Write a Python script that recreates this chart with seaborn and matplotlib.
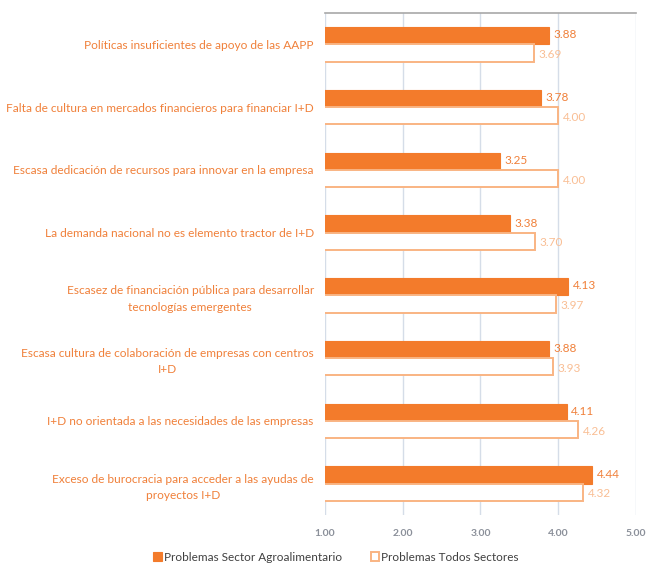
import matplotlib
matplotlib.use("Agg")
import matplotlib.pyplot as plt
import seaborn as sns
import pandas as pd

categories = [
    "Políticas insuficientes de apoyo de las AAPP",
    "Falta de cultura en mercados financieros para financiar I+D",
    "Escasa dedicación de recursos para innovar en la empresa",
    "La demanda nacional no es elemento tractor de I+D",
    "Escasez de financiación pública para desarrollar\ntecnologías emergentes",
    "Escasa cultura de colaboración de empresas con centros\nI+D",
    "I+D no orientada a las necesidades de las empresas",
    "Exceso de burocracia para acceder a las ayudas de\nproyectos I+D",
]
agro = [3.88, 3.78, 3.25, 3.38, 4.13, 3.88, 4.11, 4.44]
todos = [3.69, 4.00, 4.00, 3.70, 3.97, 3.93, 4.26, 4.32]
series = ["Problemas Sector Agroalimentario", "Problemas Todos Sectores"]
x_ticks = [1, 2, 3, 4, 5]

DARK = "#F37B2B"
LIGHT = "#F9B483"
DARK_TXT = "#F0803A"
LIGHT_TXT = "#F9BE94"

df = pd.DataFrame({
    "cat": categories * 2,
    "val": agro + todos,
    "serie": [series[0]] * len(agro) + [series[1]] * len(todos),
})

sns.set_style("white")
plt.rcParams["font.family"] = ["Lato", "DejaVu Sans"]

fig = plt.figure(figsize=(6.59, 5.64), dpi=100)
ax = fig.add_axes([0.493, 0.087, 0.472, 0.890])

sns.barplot(data=df, x="val", y="cat", hue="serie", orient="h",
            palette=[DARK, LIGHT], width=0.55, ax=ax, legend=False,
            saturation=1)

# second series: hollow bars
for p in ax.containers[1]:
    p.set_facecolor("white")
    p.set_edgecolor(LIGHT)
    p.set_linewidth(1.4)
for p in ax.containers[0]:
    p.set_edgecolor(DARK)
    p.set_linewidth(0.8)

ax.set_xlim(1, 5)
ax.set_ylim(len(categories) - 0.5, -0.5)
ax.set_xticks(x_ticks)
ax.set_xticklabels([f"{t:.2f}" for t in x_ticks], fontsize=7.5,
                   color="#8a8f99", fontweight="bold")
ax.tick_params(axis="x", length=0, pad=10)
ax.tick_params(axis="y", length=0, pad=8)
for lbl in ax.get_yticklabels():
    lbl.set_color(DARK_TXT)
    lbl.set_fontsize(8.6)
    lbl.set_multialignment("center")
    lbl.set_linespacing(1.6)
ax.set_xlabel("")
ax.set_ylabel("")
ax.xaxis.grid(True, color="#d5dde8", linewidth=1)
ax.set_axisbelow(True)
for s in ["left", "right", "bottom"]:
    ax.spines[s].set_visible(False)
ax.spines["top"].set_color("#a8a8a8")
ax.spines["top"].set_linewidth(1.2)

for p, v in zip(ax.containers[0], agro):
    ax.text(v + 0.06, p.get_y() + p.get_height() * 0.45, f"{v:.2f}",
            va="center", ha="left", fontsize=8.5, color=DARK_TXT)
for p, v in zip(ax.containers[1], todos):
    ax.text(v + 0.06, p.get_y() + p.get_height() * 0.6, f"{v:.2f}",
            va="center", ha="left", fontsize=8.5, color=LIGHT_TXT)

fig.legend(ax.containers, series, loc="center", bbox_to_anchor=(0.51, 0.012),
           ncol=2, frameon=False, fontsize=8.5, handlelength=0.7,
           handleheight=0.7, handletextpad=0.2, columnspacing=2.4,
           labelcolor="#404040")

fig.savefig("out.png", dpi=100)
